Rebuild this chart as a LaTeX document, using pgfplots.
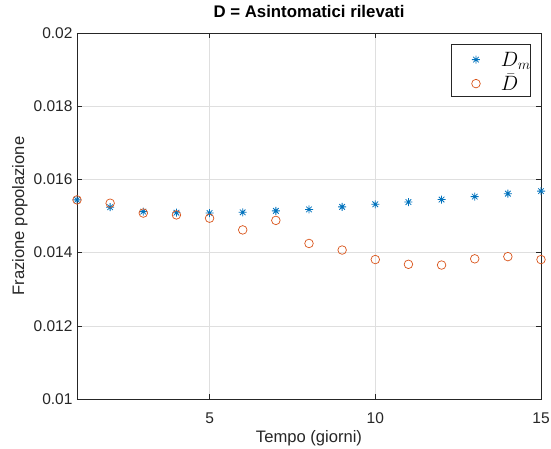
\documentclass[border=0pt]{standalone}
\usepackage{pgfplots}
\pgfplotsset{compat=1.18}
\usetikzlibrary{calc}
\usepackage{fontspec}
\setmainfont{Liberation Sans}
\definecolor{mblue}{rgb}{0,0.447,0.741}
\definecolor{morange}{rgb}{0.85,0.325,0.098}
\definecolor{axgray}{rgb}{0.15,0.15,0.15}
\definecolor{gridgray}{RGB}{223,223,223}
\pgfdeclareplotmark{mstar}{%
  \pgfpathmoveto{\pgfqpoint{-\pgfplotmarksize}{0pt}}\pgfpathlineto{\pgfqpoint{\pgfplotmarksize}{0pt}}%
  \pgfpathmoveto{\pgfqpoint{0pt}{-\pgfplotmarksize}}\pgfpathlineto{\pgfqpoint{0pt}{\pgfplotmarksize}}%
  \pgfpathmoveto{\pgfqpoint{-0.7\pgfplotmarksize}{-0.7\pgfplotmarksize}}\pgfpathlineto{\pgfqpoint{0.7\pgfplotmarksize}{0.7\pgfplotmarksize}}%
  \pgfpathmoveto{\pgfqpoint{-0.7\pgfplotmarksize}{0.7\pgfplotmarksize}}\pgfpathlineto{\pgfqpoint{0.7\pgfplotmarksize}{-0.7\pgfplotmarksize}}%
  \pgfusepathqstroke}
\begin{document}
\begin{tikzpicture}
\begin{axis}[
  name=ax,
  scale only axis,
  width=464pt, height=366pt,
  xmin=1, xmax=15, ymin=0.01, ymax=0.02,
  xtick={5,10,15},
  ytick={0.01,0.012,0.014,0.016,0.018,0.02},
  yticklabels={0.01,0.012,0.014,0.016,0.018,0.02},
  scaled y ticks=false,
  /pgf/number format/assume math mode=true,
  tick label style={font=\fontsize{15.5}{18}\selectfont, text=axgray},
  xticklabel style={anchor=base, yshift=-24pt},
  yticklabel style={anchor=east, xshift=-1pt},
  label style={font=\fontsize{16.6}{19}\selectfont, text=axgray},
  title style={font=\fontsize{16.8}{19}\selectfont\bfseries, at={(axis description cs:0.5,1.0246)}, anchor=base},
  title={D = Asintomatici rilevati},
  xlabel={Tempo (giorni)},
  ylabel={Frazione popolazione},
  xlabel style={at={(axis description cs:0.5,-0.1175)}, anchor=base},
  ylabel style={at={(axis description cs:-0.1142,0.5)}, anchor=base},
  grid=major,
  major grid style={gridgray, line width=0.6pt},
  axis line style={axgray, line width=0.6pt},
  tick style={axgray, line width=0.6pt},
  tick align=inside,
  major tick length=5pt,
  xtick pos=both, ytick pos=both,
  legend image code/.code={\path[draw=none] (0pt,-2pt) rectangle (50pt,2pt); \draw[#1] plot coordinates {(25pt,-1pt)};},
  legend style={at={(axis description cs:0.9784,0.9691)}, anchor=north east, draw=axgray, line width=0.6pt,
    font=\fontsize{22}{25}\selectfont, inner xsep=0pt, inner ysep=2pt, row sep=0pt,
    nodes={inner sep=0pt, text height=20pt, text depth=4pt}},
  legend cell align=left,
]
\addplot[only marks, mark=mstar, mark size=4pt, color=mblue, line width=0.8pt] coordinates {
(1,0.01544) (2,0.01524) (3,0.01512) (4,0.01509) (5,0.01508) (6,0.01510) (7,0.01514)
(8,0.01518) (9,0.01525) (10,0.01532) (11,0.01538) (12,0.01545) (13,0.01553) (14,0.01561) (15,0.01568)};
\addlegendentry{$D_m$\hspace{12pt}}
\addplot[only marks, mark=o, mark size=4.3pt, color=morange, line width=0.7pt] coordinates {
(1,0.01544) (2,0.01535) (3,0.01508) (4,0.01503) (5,0.01494) (6,0.01462) (7,0.01488)
(8,0.01425) (9,0.01407) (10,0.01381) (11,0.01368) (12,0.01366) (13,0.01383) (14,0.01389) (15,0.01381)};
\addlegendentry{$\bar{D}$}
\end{axis}
\pgfresetboundingbox
\path[use as bounding box] ($(ax.south west)+(-77pt,-49pt)$) rectangle ($(ax.north east)+(10pt,33pt)$);
\end{tikzpicture}
\end{document}
